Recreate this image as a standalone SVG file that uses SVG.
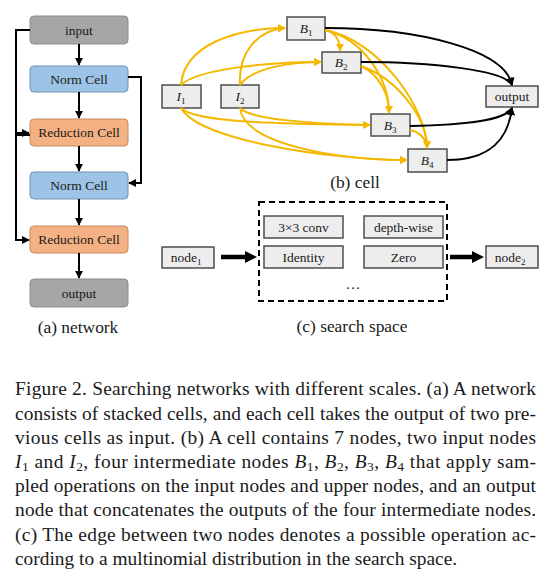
<svg xmlns="http://www.w3.org/2000/svg" width="551" height="578" viewBox="0 0 551 578">
<defs>
<style>
.t{font-family:"Liberation Serif","Times New Roman",serif;fill:#1a1a1a}
.bx{font-size:13.5px;text-anchor:middle}
.lab{font-size:17.4px;text-anchor:middle}
.cap{font-size:19.4px}
.mi{font-style:italic}
.gbox{fill:#ededed;stroke:#4d4d4d;stroke-width:1.5}
.y{fill:none;stroke:#f5b800;stroke-width:2}
.k{fill:none;stroke:#000;stroke-width:2}
</style>
<marker id="ay" viewBox="0 0 10 10" refX="9" refY="5" markerWidth="8" markerHeight="8" markerUnits="userSpaceOnUse" orient="auto"><path d="M0,0L10,5L0,10z" fill="#f5b800"/></marker>
<marker id="ak" viewBox="0 0 10 10" refX="9" refY="5" markerWidth="8" markerHeight="8" markerUnits="userSpaceOnUse" orient="auto"><path d="M0,0L10,5L0,10z" fill="#000"/></marker>
</defs>
<rect width="551" height="578" fill="#fff"/>

<!-- (a) network nodes -->
<g id="net-input"><rect x="30" y="16" width="98" height="28" rx="4" fill="#a6a6a6" stroke="#8c8c8c"/><text class="t bx" x="79" y="35">input</text></g>
<g id="net-norm1"><rect x="30" y="66" width="98" height="26" rx="4" fill="#9dc3e6" stroke="#6f93b8"/><text class="t bx" x="79" y="84">Norm Cell</text></g>
<g id="net-red1"><rect x="30" y="119" width="98" height="27" rx="4" fill="#f4b183" stroke="#c48a62"/><text class="t bx" x="79" y="137">Reduction Cell</text></g>
<g id="net-norm2"><rect x="30" y="172" width="98" height="27" rx="4" fill="#9dc3e6" stroke="#6f93b8"/><text class="t bx" x="79" y="190">Norm Cell</text></g>
<g id="net-red2"><rect x="30" y="226" width="98" height="27" rx="4" fill="#f4b183" stroke="#c48a62"/><text class="t bx" x="79" y="244">Reduction Cell</text></g>
<g id="net-output"><rect x="30" y="279" width="98" height="28" rx="4" fill="#a6a6a6" stroke="#8c8c8c"/><text class="t bx" x="79" y="298">output</text></g>
<text class="t lab" x="78" y="333">(a) network</text>

<!-- (b) cell nodes -->
<g id="cell-I1"><rect class="gbox" x="162" y="85" width="39" height="23"/><text class="t bx" x="181" y="101"><tspan class="mi">I</tspan><tspan font-size="9" dy="3">1</tspan></text></g>
<g id="cell-I2"><rect class="gbox" x="221" y="85" width="38" height="23"/><text class="t bx" x="240" y="101"><tspan class="mi">I</tspan><tspan font-size="9" dy="3">2</tspan></text></g>
<g id="cell-B1"><rect class="gbox" x="287" y="17" width="38" height="23"/><text class="t bx" x="306" y="33"><tspan class="mi">B</tspan><tspan font-size="9" dy="3">1</tspan></text></g>
<g id="cell-B2"><rect class="gbox" x="322" y="52" width="39" height="21"/><text class="t bx" x="341" y="67"><tspan class="mi">B</tspan><tspan font-size="9" dy="3">2</tspan></text></g>
<g id="cell-B3"><rect class="gbox" x="371" y="114" width="39" height="22"/><text class="t bx" x="390" y="130"><tspan class="mi">B</tspan><tspan font-size="9" dy="3">3</tspan></text></g>
<g id="cell-B4"><rect class="gbox" x="408" y="149" width="39" height="23"/><text class="t bx" x="427" y="165"><tspan class="mi">B</tspan><tspan font-size="9" dy="3">4</tspan></text></g>
<g id="cell-output"><rect class="gbox" x="486" y="86" width="52" height="21"/><text class="t bx" x="512" y="101">output</text></g>
<text class="t lab" x="355" y="188">(b) cell</text>

<!-- (c) search space nodes -->
<g id="ss-node1"><rect class="gbox" x="162" y="247" width="52" height="21"/><text class="t bx" x="186" y="262">node<tspan font-size="9" dy="3">1</tspan></text></g>
<g id="ss-box"><rect x="259" y="202" width="188" height="99" fill="none" stroke="#000" stroke-width="2" stroke-dasharray="6,4"/></g>
<g id="ss-conv"><rect class="gbox" x="264" y="216" width="79" height="22"/><text class="t bx" x="303.5" y="232">3×3 conv</text></g>
<g id="ss-identity"><rect class="gbox" x="264" y="246" width="79" height="22"/><text class="t bx" x="303.5" y="262">Identity</text></g>
<g id="ss-depth"><rect class="gbox" x="364" y="216" width="79" height="22"/><text class="t bx" x="403.5" y="232">depth-wise</text></g>
<g id="ss-zero"><rect class="gbox" x="364" y="246" width="79" height="22"/><text class="t bx" x="403.5" y="262">Zero</text></g>
<text class="t" x="353" y="289" font-size="15" text-anchor="middle">…</text>
<g id="ss-node2"><rect class="gbox" x="486" y="246" width="52" height="22"/><text class="t bx" x="510" y="262">node<tspan font-size="9" dy="3">2</tspan></text></g>
<text class="t lab" x="352" y="332">(c) search space</text>

<!-- connectors -->
<g id="connectors">
<!-- network -->
<line class="k" x1="79" y1="44" x2="79" y2="65" marker-end="url(#ak)"/>
<line class="k" x1="79" y1="92" x2="79" y2="118" marker-end="url(#ak)"/>
<line class="k" x1="79" y1="146" x2="79" y2="171" marker-end="url(#ak)"/>
<line class="k" x1="79" y1="199" x2="79" y2="225" marker-end="url(#ak)"/>
<line class="k" x1="79" y1="253" x2="79" y2="278" marker-end="url(#ak)"/>
<polyline class="k" points="30,30 16,30 16,133 29,133" marker-end="url(#ak)"/>
<polyline class="k" points="30,135 16,135 16,240 29,240" marker-end="url(#ak)"/>
<polyline class="k" points="128,77 141,77 141,183 129,183" marker-end="url(#ak)"/>
<!-- cell yellow -->
<path class="y" d="M181,85 C184,45 236,28 285,28" marker-end="url(#ay)"/>
<path class="y" d="M181,85 C196,70 262,62 321,62" marker-end="url(#ay)"/>
<path class="y" d="M240,85 C238,52 258,30 285,28" marker-end="url(#ay)"/>
<path class="y" d="M240,85 C252,68 290,62 321,62" marker-end="url(#ay)"/>
<path class="y" d="M181,108 C196,124 300,124 370,125" marker-end="url(#ay)"/>
<path class="y" d="M181,108 C198,140 330,160 407,160" marker-end="url(#ay)"/>
<path class="y" d="M240,108 C250,120 320,124 370,125" marker-end="url(#ay)"/>
<path class="y" d="M240,108 C244,145 340,160 407,160" marker-end="url(#ay)"/>
<path class="y" d="M325,30 C335,32 340,40 340,51" marker-end="url(#ay)"/>
<path class="y" d="M325,30 C365,40 389,80 389,113" marker-end="url(#ay)"/>
<path class="y" d="M325,30 C380,40 427,110 427,148" marker-end="url(#ay)"/>
<path class="y" d="M361,66 C380,75 389,95 389,113" marker-end="url(#ay)"/>
<path class="y" d="M361,66 C400,80 427,120 427,148" marker-end="url(#ay)"/>
<path class="y" d="M410,130 C420,132 427,140 427,148" marker-end="url(#ay)"/>
<!-- cell black -->
<path class="k" d="M325,28 C420,28 505,50 512,85" marker-end="url(#ak)"/>
<path class="k" d="M361,62 C430,62 505,70 512,85" marker-end="url(#ak)"/>
<path class="k" d="M410,126 C470,125 505,120 512,108" marker-end="url(#ak)"/>
<path class="k" d="M447,160 C490,160 508,140 512,108" marker-end="url(#ak)"/>
<!-- search space thick arrows -->
<line x1="221" y1="257" x2="247" y2="257" stroke="#000" stroke-width="4.5"/>
<path d="M245,251 L257,257 L245,263z" fill="#000"/>
<line x1="450" y1="257" x2="474" y2="257" stroke="#000" stroke-width="4.5"/>
<path d="M472,251 L484,257 L472,263z" fill="#000"/>
</g>

<!-- caption -->
<g id="caption" class="t cap">
<text x="15" y="395" textLength="521" lengthAdjust="spacing">Figure 2. Searching networks with different scales. (a) A network</text>
<text x="15" y="419.5" textLength="521" lengthAdjust="spacing">consists of stacked cells, and each cell takes the output of two pre-</text>
<text x="15" y="443.5" textLength="521" lengthAdjust="spacing">vious cells as input. (b) A cell contains 7 nodes, two input nodes</text>
<text x="15" y="467.5" textLength="521" lengthAdjust="spacing"><tspan class="mi">I</tspan><tspan font-size="13.5" dy="3">1</tspan><tspan dy="-3"> and </tspan><tspan class="mi">I</tspan><tspan font-size="13.5" dy="3">2</tspan><tspan dy="-3">, four intermediate nodes </tspan><tspan class="mi">B</tspan><tspan font-size="13.5" dy="3">1</tspan><tspan dy="-3">, </tspan><tspan class="mi">B</tspan><tspan font-size="13.5" dy="3">2</tspan><tspan dy="-3">, </tspan><tspan class="mi">B</tspan><tspan font-size="13.5" dy="3">3</tspan><tspan dy="-3">, </tspan><tspan class="mi">B</tspan><tspan font-size="13.5" dy="3">4</tspan><tspan dy="-3"> that apply sam-</tspan></text>
<text x="15" y="492" textLength="521" lengthAdjust="spacing">pled operations on the input nodes and upper nodes, and an output</text>
<text x="15" y="516" textLength="521" lengthAdjust="spacing">node that concatenates the outputs of the four intermediate nodes.</text>
<text x="15" y="540.5" textLength="521" lengthAdjust="spacing">(c) The edge between two nodes denotes a possible operation ac-</text>
<text x="15" y="565">cording to a multinomial distribution in the search space.</text>
</g>
</svg>
